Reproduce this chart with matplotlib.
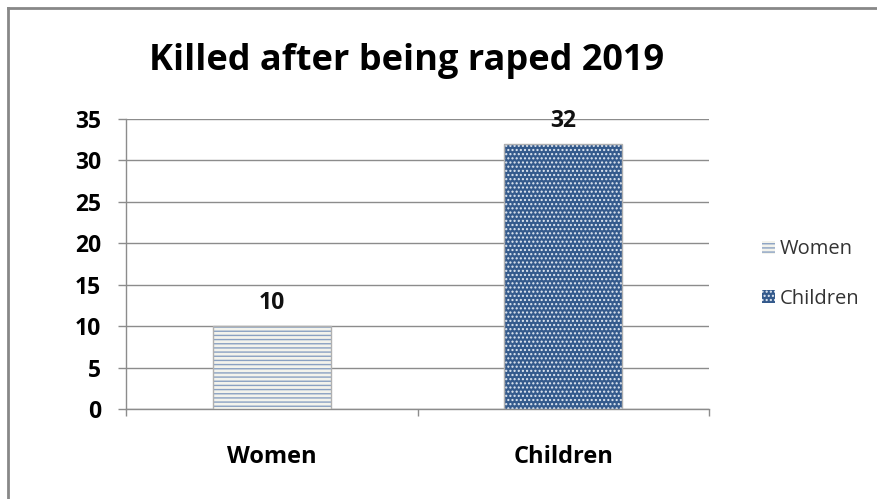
import matplotlib
matplotlib.use("Agg")
import matplotlib.pyplot as plt
from matplotlib.lines import Line2D

categories = ["Women", "Children"]
values = [10, 32]
yticks = [0, 5, 10, 15, 20, 25, 30, 35]
title = "Killed after being raped 2019"

plt.rcParams['font.family'] = ['Open Sans', 'DejaVu Sans']
plt.rcParams['hatch.linewidth'] = 1.0

W, H = 877, 499
fig = plt.figure(figsize=(W / 100, H / 100), dpi=100)
ax = fig.add_axes([126 / W, 1 - 409 / H, (709 - 126) / W, (409 - 119) / H])

x = list(range(len(categories)))
faces = ["#f3f3ec", "#345a8c"]
hatch_cols = ["#8aa1c2", "#e3eaf3"]
hatches = ["----", "...."]
width = 0.405
for i in x:
    ax.bar(x[i], values[i], width=width, color=faces[i], edgecolor=hatch_cols[i],
           hatch=hatches[i], linewidth=0, label=categories[i], zorder=3)
    ax.bar(x[i], values[i], width=width, fill=False, edgecolor="#b0b0b0",
           linewidth=1, zorder=4)
    ax.text(x[i], values[i] + 1.3, str(values[i]), ha="center", va="bottom",
            fontsize=16.5, fontweight="bold", color="#111111", zorder=5)

ax.set_xlim(-0.5, len(categories) - 0.5)
ax.set_ylim(0, 35)
ax.set_yticks(yticks)
ax.set_yticklabels([str(t) for t in yticks], fontsize=16.5, fontweight="bold")
ax.yaxis.grid(True, color="#8c8c8c", linewidth=1)
ax.set_axisbelow(True)
ax.set_xticks([-0.5, 0.5, 1.5])
ax.set_xticklabels([])
ax.set_xticks(x, minor=True)
ax.set_xticklabels(categories, minor=True, fontsize=17, fontweight="bold")
ax.tick_params(axis="x", which="minor", length=0, pad=26)
ax.tick_params(axis="x", which="major", length=5, color="#8c8c8c", width=1)
ax.tick_params(axis="y", length=5.8, color="#8c8c8c", width=1, pad=12)
for s in ["top", "right"]:
    ax.spines[s].set_visible(False)
for s in ["left", "bottom"]:
    ax.spines[s].set_color("#8c8c8c")
    ax.spines[s].set_linewidth(1)

fig.text(407 / W, 1 - 61 / H, title, ha="center", va="center",
         fontsize=26, fontweight="bold", color="#000000")

leg = fig.legend(loc="center left", bbox_to_anchor=(752 / W, 1 - 274 / H),
                 frameon=False, fontsize=14.5, handlelength=0.65, handleheight=0.65,
                 handletextpad=0.25, labelspacing=1.45, borderpad=0)
for t in leg.get_texts():
    t.set_color("#333333")

fig.add_artist(Line2D([8 / W, 8 / W], [0, 1 - 8 / H], color="#888888", linewidth=2,
                      transform=fig.transFigure))
fig.add_artist(Line2D([8 / W, 1], [1 - 8 / H, 1 - 8 / H], color="#888888", linewidth=2,
                      transform=fig.transFigure))

fig.savefig("out.png", dpi=100, facecolor="white")
